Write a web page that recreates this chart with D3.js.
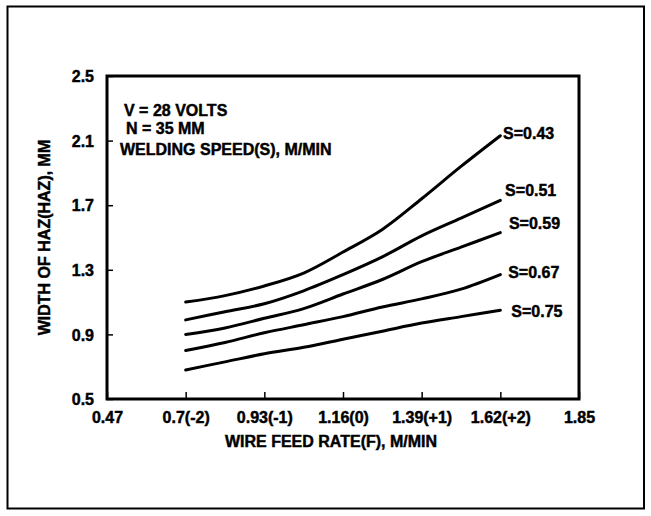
<!DOCTYPE html>
<html>
<head>
<meta charset="utf-8">
<script src="https://cdn.jsdelivr.net/npm/d3@7"></script>
<style>
  html, body { margin: 0; padding: 0; background: #fff; }
  svg text { font-family: "Liberation Sans", Arial, sans-serif; font-weight: bold; fill: #000; stroke: #000; stroke-width: 0.45px; }
</style>
</head>
<body>
<svg id="chart" width="651" height="516"></svg>
<script>
// ---- data ----
const feedRates = [0.7, 0.815, 0.93, 1.045, 1.16, 1.275, 1.39, 1.505, 1.62];
const s043 = [1.10, 1.14, 1.20, 1.28, 1.41, 1.55, 1.74, 1.94, 2.13];
const s051 = [0.99, 1.04, 1.09, 1.17, 1.27, 1.38, 1.51, 1.62, 1.73];
const s059 = [0.90, 0.94, 1.00, 1.06, 1.15, 1.24, 1.35, 1.44, 1.53];
const s067 = [0.80, 0.85, 0.91, 0.96, 1.01, 1.07, 1.12, 1.18, 1.27];
const s075 = [0.68, 0.73, 0.78, 0.82, 0.87, 0.92, 0.97, 1.01, 1.05];
const seriesNames = ["S=0.43", "S=0.51", "S=0.59", "S=0.67", "S=0.75"];
// label anchors (feed rate, width) for each series name
const labelF = [1.628, 1.634, 1.645, 1.643, 1.652];
const labelV = [2.147, 1.794, 1.590, 1.286, 1.045];
const xTickValues = [0.47, 0.7, 0.93, 1.16, 1.39, 1.62, 1.85];
const xTickLabels = ["0.47", "0.7(-2)", "0.93(-1)", "1.16(0)", "1.39(+1)", "1.62(+2)", "1.85"];
const yTickValues = [0.5, 0.9, 1.3, 1.7, 2.1, 2.5];
const notes = ["V = 28 VOLTS", "N = 35 MM", "WELDING SPEED(S), M/MIN"];
const xTitle = "WIRE FEED RATE(F), M/MIN";
const yTitle = "WIDTH OF HAZ(HAZ), MM";

const allSeries = [s043, s051, s059, s067, s075];

// ---- layout ----
const svg = d3.select("#chart");
const L = 107, R = 579, T = 76, B = 399;
const x = d3.scaleLinear().domain([0.47, 1.85]).range([L, R]);
const y = d3.scaleLinear().domain([0.5, 2.5]).range([B, T]);

// outer border
svg.append("rect").attr("x", 7.5).attr("y", 6.5).attr("width", 636.5).attr("height", 502)
  .attr("fill", "none").attr("stroke", "#000").attr("stroke-width", 2);

// axes (inward ticks)
const xAxis = d3.axisBottom(x).tickValues(xTickValues)
  .tickFormat((d, i) => xTickLabels[i]).tickSizeInner(-7).tickSizeOuter(0).tickPadding(13);
const yAxis = d3.axisLeft(y).tickValues(yTickValues)
  .tickFormat(d3.format(".1f")).tickSizeInner(-6).tickSizeOuter(0).tickPadding(13);

const gx = svg.append("g").attr("transform", `translate(0,${B})`).call(xAxis);
const gy = svg.append("g").attr("transform", `translate(${L},0)`).call(yAxis);
[gx, gy].forEach(g => {
  g.select(".domain").remove();
  g.selectAll(".tick line").attr("stroke", "#000").attr("stroke-width", 1.5);
  g.selectAll(".tick text").attr("font-size", 16).attr("font-family", null);
});
gy.selectAll(".tick text").attr("dy", "0.36em");

// plot frame
svg.append("rect").attr("x", L).attr("y", T).attr("width", R - L).attr("height", B - T)
  .attr("fill", "none").attr("stroke", "#000").attr("stroke-width", 3);

// curves
const line = d3.line().x(d => x(d[0])).y(d => y(d[1])).curve(d3.curveCatmullRom.alpha(0.5));
allSeries.forEach(vals => {
  svg.append("path").datum(feedRates.map((f, i) => [f, vals[i]]))
    .attr("d", line).attr("fill", "none").attr("stroke", "#000")
    .attr("stroke-width", 3).attr("stroke-linecap", "round");
});

// series labels
seriesNames.forEach((name, i) => {
  svg.append("text").attr("x", x(labelF[i])).attr("y", y(labelV[i]))
    .attr("dy", "0.36em").attr("font-size", 16).text(name);
});

// notes
const noteX = [124, 126, 120];
const noteY = [116, 134, 155];
notes.forEach((t, i) => {
  svg.append("text").attr("x", noteX[i]).attr("y", noteY[i]).attr("font-size", 16).text(t);
});

// axis titles
svg.append("text").attr("x", (L + R) / 2 - 12).attr("y", 447)
  .attr("text-anchor", "middle").attr("font-size", 16).text(xTitle);
svg.append("text").attr("transform", `translate(50,${(T + B) / 2}) rotate(-90)`)
  .attr("text-anchor", "middle").attr("font-size", 16).text(yTitle);
</script>
</body>
</html>
